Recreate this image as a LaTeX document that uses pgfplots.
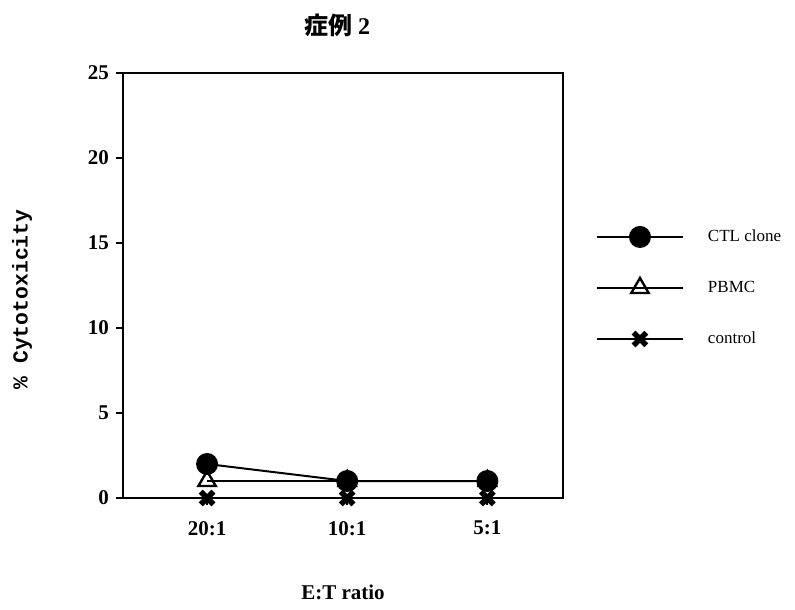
\documentclass[border=0pt]{standalone}
\usepackage{fontspec}
\setmainfont{Liberation Serif}
\setmonofont{Liberation Mono}
\newfontfamily\cjk{Noto Sans CJK JP}
\usepackage{pgfplots}
\pgfplotsset{compat=1.18}

\begin{document}
\begin{tikzpicture}
\path[use as bounding box] (-61.5pt,-55.5pt) rectangle (336pt,249pt);
\begin{axis}[
  at={(0,0)}, anchor=south west,
  scale only axis, width=220pt, height=212.5pt,
  xmin=-0.6, xmax=2.54, ymin=0, ymax=25,
  xtick={0,1,2}, xticklabels={20:1,10:1,5:1},
  ytick={0,5,10,15,20,25},
  tick align=outside, tick pos=left,
  major tick length=3.5pt,
  axis line style={line width=1pt},
  every tick/.style={line width=1pt, black},
  tick label style={font=\fontsize{10.5}{12}\selectfont\bfseries},
  xticklabel style={yshift=-4.5pt},
  /pgf/number format/assume math mode=true,
  title={\fontsize{12}{14}\selectfont\bfseries{\cjk 症例} 2},
  title style={at={(axis description cs:0.5,1)}, anchor=center, yshift=18pt, xshift=-3pt},
  xlabel={E:T ratio},
  xlabel style={at={(axis description cs:0.5,0)}, anchor=center, yshift=-47pt, font=\fontsize{10.5}{12}\selectfont\bfseries},
  ylabel={\% Cytotoxicity},
  ylabel style={at={(axis description cs:0,0.5)}, anchor=center, xshift=-7pt, yshift=50.5pt, font=\fontsize{10.7}{12}\ttfamily\bfseries},
  legend style={at={(axis description cs:1.074,0.642)}, anchor=north west, draw=none, fill=none,
    font=\fontsize{8.5}{10}\selectfont, row sep=14.25pt, inner sep=0pt},
  legend cell align=left,
  legend image code/.code={\draw[mark repeat=2, mark phase=2] plot coordinates {(0pt,0pt) (21.5pt,0pt) (43pt,0pt)};
    \path (53pt,0pt);},
  clip=false,
]
% effector cells tested at three E:T ratios
\addplot[black, line width=1pt, mark=*, mark size=5pt] coordinates {(0,2) (1,1) (2,1)};
\addlegendentry{CTL clone}
\addplot[black, line width=1pt, mark=triangle, mark size=5pt, mark options={fill=white, line width=1.2pt}] coordinates {(0,1) (1,1) (2,1)};
\addlegendentry{PBMC}
\addplot[black, line width=1pt, mark=x, mark size=4.5pt, mark options={line width=2.8pt}] coordinates {(0,0) (1,0) (2,0)};
\addlegendentry{control}
\end{axis}
\end{tikzpicture}
\end{document}
